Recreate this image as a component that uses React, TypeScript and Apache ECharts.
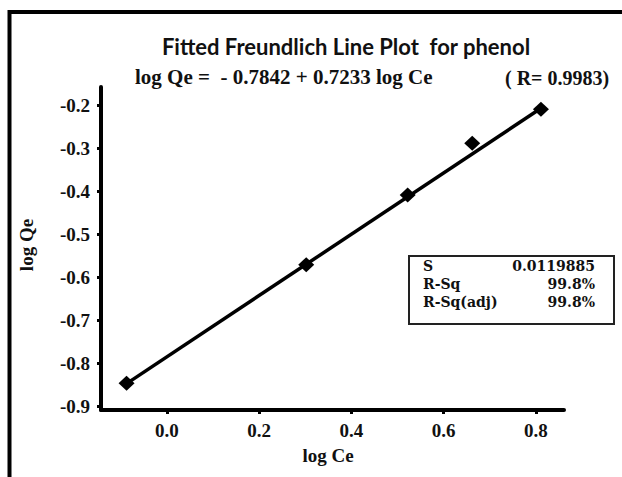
import React, { useEffect, useRef } from "react";
import * as echarts from "echarts";

// Data
const logCe = [-0.0876, 0.302, 0.522, 0.662, 0.811];
const logQe = [-0.847, -0.571, -0.409, -0.289, -0.21];
// fitted line end points (log Qe = -0.7842 + 0.7233 log Ce)
const fitCe = [-0.0876, 0.811];
const fitQe = [-0.8476, -0.2076];
const xTicks = [0.0, 0.2, 0.4, 0.6, 0.8];
const yTicks = [-0.9, -0.8, -0.7, -0.6, -0.5, -0.4, -0.3, -0.2];
const titleText = "Fitted Freundlich Line Plot  for phenol";
const equationText = "log Qe =  - 0.7842 + 0.7233 log Ce";
const rText = "( R= 0.9983)";
const statLabels = ["S", "R-Sq", "R-Sq(adj)"];
const statValues = ["0.0119885", "99.8%", "99.8%"];

const SERIF = "'Liberation Serif', 'Times New Roman', serif";
const INK = "#111111";

export default function App() {
  const ref = useRef<HTMLDivElement>(null);
  useEffect(() => {
    if (!ref.current) return;
    const chart = echarts.init(ref.current, null, { renderer: "svg" });
    const points = logCe.map((x, i) => [x, logQe[i]]);
    const fit = fitCe.map((x, i) => [x, fitQe[i]]);
    const statRowsY = [266, 284, 302];
    const graphics: any[] = [
      {
        type: "rect",
        shape: { x: 9.5, y: 12, width: 720, height: 620 },
        style: { fill: "none", stroke: "#000", lineWidth: 4 },
        silent: true,
      },
      {
        type: "text",
        style: {
          text: titleText,
          x: 346,
          y: 46,
          align: "center",
          verticalAlign: "middle",
          font: "bold 22px Lato, sans-serif",
          fill: INK,
        },
      },
      {
        type: "text",
        style: {
          text: equationText,
          x: 135,
          y: 77,
          align: "left",
          verticalAlign: "middle",
          font: `bold 21px ${SERIF}`,
          fill: INK,
        },
      },
      {
        type: "text",
        style: {
          text: rText,
          x: 505,
          y: 78,
          align: "left",
          verticalAlign: "middle",
          font: `bold 20px ${SERIF}`,
          fill: INK,
        },
      },
      {
        type: "rect",
        shape: { x: 409, y: 256, width: 205, height: 68 },
        style: { fill: "#fff", stroke: "#222", lineWidth: 2 },
        z: 10,
      },
    ];
    statLabels.forEach((t, i) => {
      graphics.push({
        type: "text",
        z: 11,
        style: {
          text: t,
          x: 423,
          y: statRowsY[i],
          align: "left",
          verticalAlign: "middle",
          font: "bold 14px 'DejaVu Serif', serif",
          fill: INK,
        },
      });
      graphics.push({
        type: "text",
        z: 11,
        style: {
          text: statValues[i],
          x: 595,
          y: statRowsY[i],
          align: "right",
          verticalAlign: "middle",
          font: "bold 14px 'DejaVu Serif', serif",
          fill: INK,
        },
      });
    });

    const labelStyle = {
      fontFamily: SERIF,
      fontWeight: "bold" as const,
      fontSize: 19,
      color: INK,
    };

    chart.setOption({
      animation: false,
      backgroundColor: "#ffffff",
      grid: { left: 101, top: 87, width: 463, height: 323, containLabel: false },
      xAxis: {
        type: "value",
        min: -0.143,
        max: 0.861,
        name: "log Ce",
        nameLocation: "middle",
        nameGap: 36,
        nameTextStyle: { ...labelStyle, padding: [0, 9, 0, 0] },
        splitLine: { show: false },
        axisLine: { show: true, onZero: false, lineStyle: { color: "#000", width: 4 } },
        axisTick: {
          show: true,
          length: 4,
          customValues: xTicks,
          lineStyle: { color: "#000", width: 3 },
        },
        axisLabel: {
          customValues: xTicks,
          margin: 11,
          formatter: (v: number) => v.toFixed(1),
          ...labelStyle,
        },
      },
      yAxis: {
        type: "value",
        min: -0.909,
        max: -0.158,
        name: "log Qe",
        nameLocation: "middle",
        nameGap: 65,
        nameTextStyle: { ...labelStyle, padding: [0, 0, 0, 7] },
        splitLine: { show: false },
        axisLine: { show: true, onZero: false, lineStyle: { color: "#000", width: 4 } },
        axisTick: {
          show: true,
          length: 4,
          customValues: yTicks,
          lineStyle: { color: "#000", width: 3 },
        },
        axisLabel: {
          customValues: yTicks,
          margin: 11,
          formatter: (v: number) => v.toFixed(1),
          ...labelStyle,
        },
      },
      series: [
        {
          type: "line",
          data: fit,
          showSymbol: false,
          symbol: "none",
          lineStyle: { color: "#000", width: 3.5 },
          z: 2,
        },
        {
          type: "scatter",
          data: points,
          symbol: "diamond",
          symbolSize: [16, 15],
          itemStyle: { color: "#000", opacity: 1 },
          z: 3,
        },
      ],
      graphic: graphics,
    });
    return () => chart.dispose();
  }, []);
  return (
    <div
      ref={ref}
      style={{ position: "absolute", left: 0, top: 0, width: 622, height: 477 }}
    />
  );
}
